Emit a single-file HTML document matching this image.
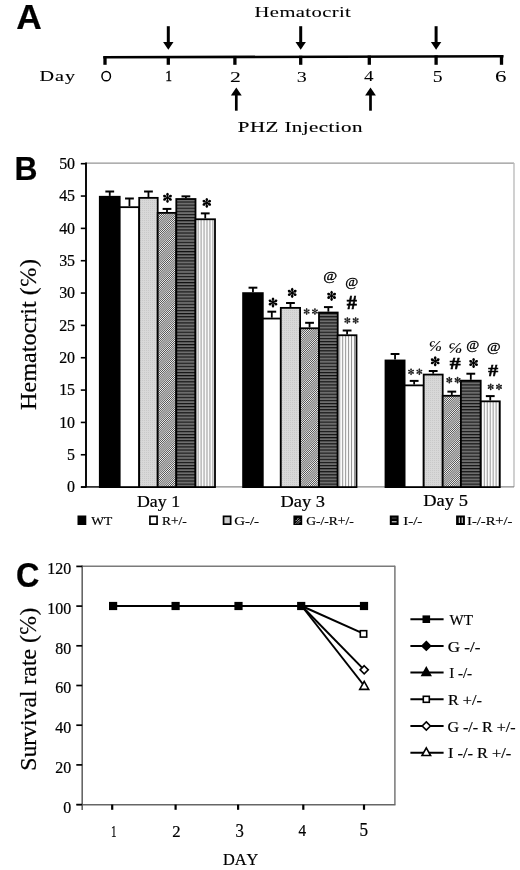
<!DOCTYPE html>
<html><head><meta charset="utf-8"><style>
html,body{margin:0;padding:0;background:#fff;}
body{width:520px;height:870px;overflow:hidden;}
svg{display:block;filter:grayscale(1) blur(0.5px);}
text{font-kerning:none;}
</style></head><body>
<svg width="520" height="870" viewBox="0 0 520 870">
<rect width="520" height="870" fill="#fff"/>
<defs>
<pattern id="hatch" patternUnits="userSpaceOnUse" width="1.5" height="3" patternTransform="rotate(45)">
<rect width="1.5" height="3" fill="#f4f4f4"/><rect width="0.65" height="3" fill="#333"/></pattern>
<pattern id="hstripe" patternUnits="userSpaceOnUse" width="3" height="3.1">
<rect width="3" height="3.1" fill="#6e6e6e"/><rect y="0" width="3" height="1.1" fill="#111"/></pattern>
<pattern id="vstripe" patternUnits="userSpaceOnUse" width="2.95" height="3">
<rect width="2.95" height="3" fill="#fafafa"/><rect x="0" width="0.9" height="3" fill="#8c8c8c"/></pattern>
<pattern id="dots" patternUnits="userSpaceOnUse" width="2" height="2">
<rect width="2" height="2" fill="#d8d8d8"/><rect width="1" height="1" fill="#c9c9c9"/></pattern>
<g id="ast"><circle r="1.3"/><path d="M0,0 L-0.85,-2.0 A1.25,1.55 0 1 1 0.85,-2.0 Z" transform="rotate(0)"/><path d="M0,0 L-0.85,-2.0 A1.25,1.55 0 1 1 0.85,-2.0 Z" transform="rotate(60)"/><path d="M0,0 L-0.85,-2.0 A1.25,1.55 0 1 1 0.85,-2.0 Z" transform="rotate(120)"/><path d="M0,0 L-0.85,-2.0 A1.25,1.55 0 1 1 0.85,-2.0 Z" transform="rotate(180)"/><path d="M0,0 L-0.85,-2.0 A1.25,1.55 0 1 1 0.85,-2.0 Z" transform="rotate(240)"/><path d="M0,0 L-0.85,-2.0 A1.25,1.55 0 1 1 0.85,-2.0 Z" transform="rotate(300)"/></g>
</defs>
<text transform="translate(16.32,28.80) scale(1.0298,1)" font-family='"Liberation Sans", sans-serif' font-size="34.303" font-weight="bold" font-style="normal" fill="#000" stroke="#000" stroke-width="0.22">A</text>
<text transform="translate(254.61,16.80) scale(1.4500,1)" font-family='"Liberation Serif", serif' font-size="14.199" font-weight="normal" font-style="normal" fill="#000" letter-spacing="0.276" stroke="#000" stroke-width="0.08">Hematocrit</text>
<polygon points="103.3,56 503.5,55 503.5,57.6 103.3,58.6" fill="#000"/>
<line x1="105" y1="56.3" x2="105" y2="64.8" stroke="#000" stroke-width="3.3" stroke-linecap="butt"/>
<line x1="168.3" y1="56.12" x2="168.3" y2="64.8" stroke="#000" stroke-width="3.3" stroke-linecap="butt"/>
<line x1="234.9" y1="55.94" x2="234.9" y2="64.8" stroke="#000" stroke-width="3.3" stroke-linecap="butt"/>
<line x1="300.7" y1="55.76" x2="300.7" y2="64.8" stroke="#000" stroke-width="3.3" stroke-linecap="butt"/>
<line x1="369.3" y1="55.57" x2="369.3" y2="64.8" stroke="#000" stroke-width="3.3" stroke-linecap="butt"/>
<line x1="436.1" y1="55.38" x2="436.1" y2="64.8" stroke="#000" stroke-width="3.3" stroke-linecap="butt"/>
<line x1="501.5" y1="55.2" x2="501.5" y2="64.8" stroke="#000" stroke-width="3.3" stroke-linecap="butt"/>
<line x1="168.3" y1="26.2" x2="168.3" y2="43" stroke="#000" stroke-width="3" stroke-linecap="butt"/>
<polygon points="163.10000000000002,42 173.5,42 168.3,49.8" fill="#000"/>
<line x1="300.7" y1="26.2" x2="300.7" y2="43" stroke="#000" stroke-width="3" stroke-linecap="butt"/>
<polygon points="295.5,42 305.9,42 300.7,49.8" fill="#000"/>
<line x1="436.1" y1="26.2" x2="436.1" y2="43" stroke="#000" stroke-width="3" stroke-linecap="butt"/>
<polygon points="430.90000000000003,42 441.3,42 436.1,49.8" fill="#000"/>
<line x1="236.3" y1="94" x2="236.3" y2="110.7" stroke="#000" stroke-width="2.7" stroke-linecap="butt"/>
<polygon points="230.9,95.6 241.70000000000002,95.6 236.3,87.4" fill="#000"/>
<line x1="370.5" y1="94" x2="370.5" y2="110.7" stroke="#000" stroke-width="2.7" stroke-linecap="butt"/>
<polygon points="365.1,95.6 375.9,95.6 370.5,87.4" fill="#000"/>
<ellipse cx="106.2" cy="76.15" rx="4.25" ry="4.65" fill="none" stroke="#000" stroke-width="1.5"/>
<text transform="translate(165.38,80.70) scale(0.9198,1)" font-family='"Liberation Serif", serif' font-size="13.897" font-weight="normal" font-style="normal" fill="#000" stroke="#000" stroke-width="0.5">1</text>
<text transform="translate(230.05,82.00) scale(1.5616,1)" font-family='"Liberation Serif", serif' font-size="13.897" font-weight="normal" font-style="normal" fill="#000" stroke="#000" stroke-width="0.05">2</text>
<text transform="translate(296.64,81.80) scale(1.4303,1)" font-family='"Liberation Serif", serif' font-size="14.048" font-weight="normal" font-style="normal" fill="#000" stroke="#000" stroke-width="0.05">3</text>
<text transform="translate(363.93,81.40) scale(1.3484,1)" font-family='"Liberation Serif", serif' font-size="14.199" font-weight="normal" font-style="normal" fill="#000" stroke="#000" stroke-width="0.05">4</text>
<text transform="translate(432.86,81.80) scale(1.2483,1)" font-family='"Liberation Serif", serif' font-size="15.710" font-weight="normal" font-style="normal" fill="#000" stroke="#000" stroke-width="0.05">5</text>
<text transform="translate(495.01,81.90) scale(1.4601,1)" font-family='"Liberation Serif", serif' font-size="15.710" font-weight="normal" font-style="normal" fill="#000" stroke="#000" stroke-width="0.05">6</text>
<text transform="translate(39.52,80.50) scale(1.3500,1)" font-family='"Liberation Serif", serif' font-size="14.962" font-weight="normal" font-style="normal" fill="#000" letter-spacing="0.707" stroke="#000" stroke-width="0.1">Day</text>
<text transform="translate(237.79,131.60) scale(1.3500,1)" font-family='"Liberation Serif", serif' font-size="15.559" font-weight="normal" font-style="normal" fill="#000" letter-spacing="0.317" stroke="#000" stroke-width="0.15">PHZ Injection</text>
<text transform="translate(14.47,180.30) scale(0.9515,1)" font-family='"Liberation Sans", sans-serif' font-size="33.431" font-weight="bold" font-style="normal" fill="#000" stroke="#000" stroke-width="0.22">B</text>
<line x1="86" y1="163.2" x2="514" y2="163.2" stroke="#959595" stroke-width="1.2" stroke-linecap="butt"/>
<line x1="514" y1="163" x2="514" y2="487" stroke="#bdbdbd" stroke-width="1.4" stroke-linecap="butt"/>
<line x1="81" y1="486.8" x2="514" y2="486.8" stroke="#888" stroke-width="1.3" stroke-linecap="butt"/>
<line x1="81" y1="486.9" x2="99.5" y2="486.9" stroke="#222" stroke-width="1.5" stroke-linecap="butt"/>
<line x1="86" y1="162.5" x2="86" y2="487.5" stroke="#000" stroke-width="1.9" stroke-linecap="butt"/>
<line x1="80.8" y1="487.1" x2="86" y2="487.1" stroke="#000" stroke-width="1.6" stroke-linecap="butt"/>
<text transform="translate(75.10,492.30) scale(0.94,1)" font-family='"Liberation Serif", serif' font-size="17" font-weight="normal" font-style="normal" text-anchor="end" fill="#000" stroke="#000" stroke-width="0.22">0</text>
<line x1="80.8" y1="454.76" x2="86" y2="454.76" stroke="#000" stroke-width="1.6" stroke-linecap="butt"/>
<text transform="translate(75.10,459.96) scale(0.94,1)" font-family='"Liberation Serif", serif' font-size="17" font-weight="normal" font-style="normal" text-anchor="end" fill="#000" stroke="#000" stroke-width="0.22">5</text>
<line x1="80.8" y1="422.42" x2="86" y2="422.42" stroke="#000" stroke-width="1.6" stroke-linecap="butt"/>
<text transform="translate(75.10,427.62) scale(0.94,1)" font-family='"Liberation Serif", serif' font-size="17" font-weight="normal" font-style="normal" text-anchor="end" fill="#000" stroke="#000" stroke-width="0.22">10</text>
<line x1="80.8" y1="390.08" x2="86" y2="390.08" stroke="#000" stroke-width="1.6" stroke-linecap="butt"/>
<text transform="translate(75.10,395.28) scale(0.94,1)" font-family='"Liberation Serif", serif' font-size="17" font-weight="normal" font-style="normal" text-anchor="end" fill="#000" stroke="#000" stroke-width="0.22">15</text>
<line x1="80.8" y1="357.74" x2="86" y2="357.74" stroke="#000" stroke-width="1.6" stroke-linecap="butt"/>
<text transform="translate(75.10,362.94) scale(0.94,1)" font-family='"Liberation Serif", serif' font-size="17" font-weight="normal" font-style="normal" text-anchor="end" fill="#000" stroke="#000" stroke-width="0.22">20</text>
<line x1="80.8" y1="325.4" x2="86" y2="325.4" stroke="#000" stroke-width="1.6" stroke-linecap="butt"/>
<text transform="translate(75.10,330.60) scale(0.94,1)" font-family='"Liberation Serif", serif' font-size="17" font-weight="normal" font-style="normal" text-anchor="end" fill="#000" stroke="#000" stroke-width="0.22">25</text>
<line x1="80.8" y1="293.06" x2="86" y2="293.06" stroke="#000" stroke-width="1.6" stroke-linecap="butt"/>
<text transform="translate(75.10,298.26) scale(0.94,1)" font-family='"Liberation Serif", serif' font-size="17" font-weight="normal" font-style="normal" text-anchor="end" fill="#000" stroke="#000" stroke-width="0.22">30</text>
<line x1="80.8" y1="260.72" x2="86" y2="260.72" stroke="#000" stroke-width="1.6" stroke-linecap="butt"/>
<text transform="translate(75.10,265.92) scale(0.94,1)" font-family='"Liberation Serif", serif' font-size="17" font-weight="normal" font-style="normal" text-anchor="end" fill="#000" stroke="#000" stroke-width="0.22">35</text>
<line x1="80.8" y1="228.38" x2="86" y2="228.38" stroke="#000" stroke-width="1.6" stroke-linecap="butt"/>
<text transform="translate(75.10,233.58) scale(0.94,1)" font-family='"Liberation Serif", serif' font-size="17" font-weight="normal" font-style="normal" text-anchor="end" fill="#000" stroke="#000" stroke-width="0.22">40</text>
<line x1="80.8" y1="196.04" x2="86" y2="196.04" stroke="#000" stroke-width="1.6" stroke-linecap="butt"/>
<text transform="translate(75.10,201.24) scale(0.94,1)" font-family='"Liberation Serif", serif' font-size="17" font-weight="normal" font-style="normal" text-anchor="end" fill="#000" stroke="#000" stroke-width="0.22">45</text>
<line x1="80.8" y1="163.7" x2="86" y2="163.7" stroke="#000" stroke-width="1.6" stroke-linecap="butt"/>
<text transform="translate(75.10,168.90) scale(0.94,1)" font-family='"Liberation Serif", serif' font-size="17" font-weight="normal" font-style="normal" text-anchor="end" fill="#000" stroke="#000" stroke-width="0.22">50</text>
<line x1="109.75" y1="191.51" x2="109.75" y2="195.91" stroke="#000" stroke-width="1.8" stroke-linecap="butt"/>
<line x1="105.35" y1="191.51" x2="114.15" y2="191.51" stroke="#000" stroke-width="2.0" stroke-linecap="butt"/>
<rect x="99.8" y="196.76" width="19.9" height="290.34" fill="#000" stroke="#000" stroke-width="1.8"/>
<line x1="129.45" y1="198.5" x2="129.45" y2="206.32" stroke="#000" stroke-width="1.8" stroke-linecap="butt"/>
<line x1="125.05" y1="198.5" x2="133.85" y2="198.5" stroke="#000" stroke-width="2.0" stroke-linecap="butt"/>
<rect x="119.7" y="207.17" width="19.5" height="279.93" fill="#fff" stroke="#000" stroke-width="1.8"/>
<line x1="148.45" y1="191.51" x2="148.45" y2="197.01" stroke="#000" stroke-width="1.8" stroke-linecap="butt"/>
<line x1="144.05" y1="191.51" x2="152.85" y2="191.51" stroke="#000" stroke-width="2.0" stroke-linecap="butt"/>
<rect x="139.2" y="197.86" width="18.5" height="289.24" fill="url(#dots)" stroke="#000" stroke-width="1.8"/>
<line x1="167" y1="208.91" x2="167" y2="212.02" stroke="#000" stroke-width="1.8" stroke-linecap="butt"/>
<line x1="162.6" y1="208.91" x2="171.4" y2="208.91" stroke="#000" stroke-width="2.0" stroke-linecap="butt"/>
<rect x="157.7" y="212.87" width="18.6" height="274.23" fill="url(#hatch)" stroke="#000" stroke-width="1.8"/>
<line x1="185.9" y1="196.36" x2="185.9" y2="198.17" stroke="#000" stroke-width="1.8" stroke-linecap="butt"/>
<line x1="181.5" y1="196.36" x2="190.3" y2="196.36" stroke="#000" stroke-width="2.0" stroke-linecap="butt"/>
<rect x="176.3" y="199.02" width="19.2" height="288.08" fill="url(#hstripe)" stroke="#000" stroke-width="1.8"/>
<line x1="205.25" y1="213.37" x2="205.25" y2="218.42" stroke="#000" stroke-width="1.8" stroke-linecap="butt"/>
<line x1="200.85" y1="213.37" x2="209.65" y2="213.37" stroke="#000" stroke-width="2.0" stroke-linecap="butt"/>
<rect x="195.5" y="219.27" width="19.5" height="267.83" fill="url(#vstripe)" stroke="#000" stroke-width="1.8"/>
<line x1="252.95" y1="287.69" x2="252.95" y2="292.28" stroke="#000" stroke-width="1.8" stroke-linecap="butt"/>
<line x1="248.55" y1="287.69" x2="257.35" y2="287.69" stroke="#000" stroke-width="2.0" stroke-linecap="butt"/>
<rect x="243.1" y="293.13" width="19.7" height="193.97" fill="#000" stroke="#000" stroke-width="1.8"/>
<line x1="271.8" y1="311.69" x2="271.8" y2="317.7" stroke="#000" stroke-width="1.8" stroke-linecap="butt"/>
<line x1="267.4" y1="311.69" x2="276.2" y2="311.69" stroke="#000" stroke-width="2.0" stroke-linecap="butt"/>
<rect x="262.8" y="318.55" width="18" height="168.55" fill="#fff" stroke="#000" stroke-width="1.8"/>
<line x1="290.45" y1="303.02" x2="290.45" y2="307.03" stroke="#000" stroke-width="1.8" stroke-linecap="butt"/>
<line x1="286.05" y1="303.02" x2="294.85" y2="303.02" stroke="#000" stroke-width="2.0" stroke-linecap="butt"/>
<rect x="280.8" y="307.88" width="19.3" height="179.22" fill="url(#dots)" stroke="#000" stroke-width="1.8"/>
<line x1="309.55" y1="322.81" x2="309.55" y2="327.41" stroke="#000" stroke-width="1.8" stroke-linecap="butt"/>
<line x1="305.15" y1="322.81" x2="313.95" y2="322.81" stroke="#000" stroke-width="2.0" stroke-linecap="butt"/>
<rect x="300.1" y="328.26" width="18.9" height="158.84" fill="url(#hatch)" stroke="#000" stroke-width="1.8"/>
<line x1="328.35" y1="307.1" x2="328.35" y2="311.69" stroke="#000" stroke-width="1.8" stroke-linecap="butt"/>
<line x1="323.95" y1="307.1" x2="332.75" y2="307.1" stroke="#000" stroke-width="2.0" stroke-linecap="butt"/>
<rect x="319" y="312.54" width="18.7" height="174.56" fill="url(#hstripe)" stroke="#000" stroke-width="1.8"/>
<line x1="347.1" y1="330.51" x2="347.1" y2="334.39" stroke="#000" stroke-width="1.8" stroke-linecap="butt"/>
<line x1="342.7" y1="330.51" x2="351.5" y2="330.51" stroke="#000" stroke-width="2.0" stroke-linecap="butt"/>
<rect x="337.7" y="335.24" width="18.8" height="151.86" fill="url(#vstripe)" stroke="#000" stroke-width="1.8"/>
<line x1="395.05" y1="353.99" x2="395.05" y2="359.62" stroke="#000" stroke-width="1.8" stroke-linecap="butt"/>
<line x1="390.65" y1="353.99" x2="399.45" y2="353.99" stroke="#000" stroke-width="2.0" stroke-linecap="butt"/>
<rect x="385.5" y="360.47" width="19.1" height="126.63" fill="#000" stroke="#000" stroke-width="1.8"/>
<line x1="414.15" y1="380.9" x2="414.15" y2="384.52" stroke="#000" stroke-width="1.8" stroke-linecap="butt"/>
<line x1="409.75" y1="380.9" x2="418.55" y2="380.9" stroke="#000" stroke-width="2.0" stroke-linecap="butt"/>
<rect x="404.6" y="385.37" width="19.1" height="101.73" fill="#fff" stroke="#000" stroke-width="1.8"/>
<line x1="433.2" y1="371" x2="433.2" y2="373.72" stroke="#000" stroke-width="1.8" stroke-linecap="butt"/>
<line x1="428.8" y1="371" x2="437.6" y2="371" stroke="#000" stroke-width="2.0" stroke-linecap="butt"/>
<rect x="423.7" y="374.57" width="19" height="112.53" fill="url(#dots)" stroke="#000" stroke-width="1.8"/>
<line x1="451.8" y1="391.63" x2="451.8" y2="394.93" stroke="#000" stroke-width="1.8" stroke-linecap="butt"/>
<line x1="447.4" y1="391.63" x2="456.2" y2="391.63" stroke="#000" stroke-width="2.0" stroke-linecap="butt"/>
<rect x="442.7" y="395.78" width="18.2" height="91.32" fill="url(#hatch)" stroke="#000" stroke-width="1.8"/>
<line x1="470.8" y1="373.72" x2="470.8" y2="379.8" stroke="#000" stroke-width="1.8" stroke-linecap="butt"/>
<line x1="466.4" y1="373.72" x2="475.2" y2="373.72" stroke="#000" stroke-width="2.0" stroke-linecap="butt"/>
<rect x="460.9" y="380.65" width="19.8" height="106.45" fill="url(#hstripe)" stroke="#000" stroke-width="1.8"/>
<line x1="490.25" y1="396.1" x2="490.25" y2="400.49" stroke="#000" stroke-width="1.8" stroke-linecap="butt"/>
<line x1="485.85" y1="396.1" x2="494.65" y2="396.1" stroke="#000" stroke-width="2.0" stroke-linecap="butt"/>
<rect x="480.7" y="401.34" width="19.1" height="85.76" fill="url(#vstripe)" stroke="#000" stroke-width="1.8"/>
<use href="#ast" transform="translate(167.5,197.8) scale(1.05)" fill="#000"/>
<use href="#ast" transform="translate(206.8,202.85) scale(1.03)" fill="#000"/>
<use href="#ast" transform="translate(273,302.45) scale(1.05)" fill="#000"/>
<use href="#ast" transform="translate(292.2,292.9) scale(1.05)" fill="#000"/>
<use href="#ast" transform="translate(306.65000000000003,311.5) scale(0.72)" fill="#222"/>
<use href="#ast" transform="translate(314.95,311.5) scale(0.72)" fill="#222"/>
<use href="#ast" transform="translate(331.6,295.85) scale(1.05)" fill="#000"/>
<use href="#ast" transform="translate(347.35,320.45) scale(0.72)" fill="#222"/>
<use href="#ast" transform="translate(355.65,320.45) scale(0.72)" fill="#222"/>
<use href="#ast" transform="translate(411.05,371.75) scale(0.72)" fill="#222"/>
<use href="#ast" transform="translate(419.34999999999997,371.75) scale(0.72)" fill="#222"/>
<use href="#ast" transform="translate(435.2,361.3) scale(1.05)" fill="#000"/>
<use href="#ast" transform="translate(449.3,380.15) scale(0.72)" fill="#222"/>
<use href="#ast" transform="translate(457.59999999999997,380.15) scale(0.72)" fill="#222"/>
<use href="#ast" transform="translate(473.6,362.95) scale(1.05)" fill="#000"/>
<use href="#ast" transform="translate(490.70000000000005,386.85) scale(0.72)" fill="#222"/>
<use href="#ast" transform="translate(499.0,386.85) scale(0.72)" fill="#222"/>
<text transform="translate(323.20,279.93) scale(1.318,1)" font-family='"Liberation Serif", serif' font-size="11.45" font-weight="normal" font-style="normal" stroke="#000" stroke-width="0.3">@</text>
<text transform="translate(345.25,286.11) scale(1.173,1)" font-family='"Liberation Serif", serif' font-size="12.03" font-weight="normal" font-style="normal" stroke="#000" stroke-width="0.3">@</text>
<text transform="translate(346.83,309.20) scale(1.097,1)" font-family='"Liberation Serif", serif' font-size="18.48" font-weight="bold" font-style="normal" stroke="#000" stroke-width="0.55">#</text>
<text transform="translate(428.46,351.30) scale(1.103,1)" font-family='"Liberation Serif", serif' font-size="14.89" font-weight="normal" font-style="italic" stroke="#000" stroke-width="0.12">℅</text>
<text transform="translate(447.98,352.70) scale(1.170,1)" font-family='"Liberation Serif", serif' font-size="14.89" font-weight="normal" font-style="italic" stroke="#000" stroke-width="0.12">℅</text>
<text transform="translate(449.72,369.00) scale(1.237,1)" font-family='"Liberation Serif", serif' font-size="17.41" font-weight="bold" font-style="normal" stroke="#000" stroke-width="0.55">#</text>
<text transform="translate(466.15,348.66) scale(1.196,1)" font-family='"Liberation Serif", serif' font-size="11.80" font-weight="normal" font-style="normal" stroke="#000" stroke-width="0.3">@</text>
<text transform="translate(488.24,375.80) scale(1.130,1)" font-family='"Liberation Serif", serif' font-size="17.56" font-weight="bold" font-style="normal" stroke="#000" stroke-width="0.55">#</text>
<text transform="translate(487.01,351.36) scale(1.258,1)" font-family='"Liberation Serif", serif' font-size="11.80" font-weight="normal" font-style="normal" stroke="#000" stroke-width="0.3">@</text>
<text transform="translate(136.99,507.00) scale(1.0619,1)" font-family='"Liberation Serif", serif' font-size="16.794" font-weight="normal" font-style="normal" fill="#000" stroke="#000" stroke-width="0.22">Day 1</text>
<text transform="translate(280.47,506.80) scale(1.0784,1)" font-family='"Liberation Serif", serif' font-size="17.099" font-weight="normal" font-style="normal" fill="#000" stroke="#000" stroke-width="0.22">Day 3</text>
<text transform="translate(423.27,506.40) scale(1.1107,1)" font-family='"Liberation Serif", serif' font-size="16.641" font-weight="normal" font-style="normal" fill="#000" stroke="#000" stroke-width="0.22">Day 5</text>
<rect x="78.35" y="516.35" width="7.1" height="7.8" fill="#000" stroke="#000" stroke-width="1.7"/>
<text transform="translate(91.29,525.00) scale(1.0072,1)" font-family='"Liberation Serif", serif' font-size="13.435" font-weight="normal" font-style="normal" fill="#000" stroke="#000" stroke-width="0.2">WT</text>
<rect x="149.95" y="516.35" width="7.1" height="7.8" fill="#fff" stroke="#000" stroke-width="1.7"/>
<text transform="translate(161.91,525.00) scale(1.0012,1)" font-family='"Liberation Serif", serif' font-size="13.435" font-weight="normal" font-style="normal" fill="#000" stroke="#000" stroke-width="0.2">R+/-</text>
<rect x="223.55" y="516.35" width="7.1" height="7.8" fill="#cdcdcd" stroke="#000" stroke-width="1.7"/>
<text transform="translate(234.19,525.00) scale(1.1102,1)" font-family='"Liberation Serif", serif' font-size="13.435" font-weight="normal" font-style="normal" fill="#000" stroke="#000" stroke-width="0.2">G-/-</text>
<rect x="294.25" y="516.35" width="7.1" height="7.8" fill="#000" stroke="#000" stroke-width="1.7"/>
<g stroke="#fff" stroke-width="1" stroke-dasharray="1.2 0.6"><line x1="295.59999999999997" y1="521.1" x2="298.79999999999995" y2="517.9"/><line x1="295.79999999999995" y1="523.5" x2="300.2" y2="519.1"/><line x1="298.0" y1="523.5" x2="300.2" y2="521.3"/></g>
<text transform="translate(306.24,525.00) scale(1.0089,1)" font-family='"Liberation Serif", serif' font-size="13.435" font-weight="normal" font-style="normal" fill="#000" stroke="#000" stroke-width="0.2">G-/-R+/-</text>
<rect x="390.65" y="516.35" width="7.1" height="7.8" fill="#000" stroke="#000" stroke-width="1.7"/>
<line x1="391.8" y1="521.8" x2="396.6" y2="521.8" stroke="#fff" stroke-width="1.0" stroke-linecap="butt"/>
<line x1="391.8" y1="518.1" x2="396.6" y2="518.1" stroke="#666" stroke-width="0.8" stroke-linecap="butt"/>
<text transform="translate(403.16,525.00) scale(1.1184,1)" font-family='"Liberation Serif", serif' font-size="13.435" font-weight="normal" font-style="normal" fill="#000" stroke="#000" stroke-width="0.2">I-/-</text>
<rect x="456.95" y="516.35" width="7.1" height="7.8" fill="#000" stroke="#000" stroke-width="1.7"/>
<line x1="459.3" y1="517.5" x2="459.3" y2="523" stroke="#fff" stroke-width="1.0" stroke-linecap="butt"/>
<line x1="462.2" y1="517.5" x2="462.2" y2="523" stroke="#fff" stroke-width="1.0" stroke-linecap="butt"/>
<text transform="translate(467.07,525.00) scale(1.0848,1)" font-family='"Liberation Serif", serif' font-size="13.435" font-weight="normal" font-style="normal" fill="#000" stroke="#000" stroke-width="0.2">I-/-R+/-</text>
<text transform="translate(35.80,409.90) rotate(-90) scale(1.0387,1)" font-family='"Liberation Serif", serif' font-size="23.263" font-weight="normal" font-style="normal" fill="#000" stroke="#000" stroke-width="0.22">Hematocrit (℅)</text>
<text transform="translate(15.97,587.20) scale(0.9356,1)" font-family='"Liberation Sans", sans-serif' font-size="34.658" font-weight="bold" font-style="normal" fill="#000" stroke="#000" stroke-width="0.22">C</text>
<line x1="82" y1="566.2" x2="395" y2="566.2" stroke="#7a7a7a" stroke-width="1.5" stroke-linecap="butt"/>
<line x1="394.9" y1="565.8" x2="394.9" y2="804.6" stroke="#777" stroke-width="1.5" stroke-linecap="butt"/>
<line x1="76.5" y1="804.7" x2="395.5" y2="804.7" stroke="#666" stroke-width="1.6" stroke-linecap="butt"/>
<line x1="82.2" y1="565.5" x2="82.2" y2="810" stroke="#666" stroke-width="1.6" stroke-linecap="butt"/>
<line x1="76.3" y1="804.6" x2="82.2" y2="804.6" stroke="#000" stroke-width="1.7" stroke-linecap="butt"/>
<text transform="translate(71.20,812.50) scale(0.94,1)" font-family='"Liberation Serif", serif' font-size="17" font-weight="normal" font-style="normal" text-anchor="end" fill="#000" stroke="#000" stroke-width="0.22">0</text>
<line x1="76.3" y1="764.9" x2="82.2" y2="764.9" stroke="#000" stroke-width="1.7" stroke-linecap="butt"/>
<text transform="translate(71.20,772.80) scale(0.94,1)" font-family='"Liberation Serif", serif' font-size="17" font-weight="normal" font-style="normal" text-anchor="end" fill="#000" stroke="#000" stroke-width="0.22">20</text>
<line x1="76.3" y1="725.2" x2="82.2" y2="725.2" stroke="#000" stroke-width="1.7" stroke-linecap="butt"/>
<text transform="translate(71.20,733.10) scale(0.94,1)" font-family='"Liberation Serif", serif' font-size="17" font-weight="normal" font-style="normal" text-anchor="end" fill="#000" stroke="#000" stroke-width="0.22">40</text>
<line x1="76.3" y1="685.5" x2="82.2" y2="685.5" stroke="#000" stroke-width="1.7" stroke-linecap="butt"/>
<text transform="translate(71.20,693.40) scale(0.94,1)" font-family='"Liberation Serif", serif' font-size="17" font-weight="normal" font-style="normal" text-anchor="end" fill="#000" stroke="#000" stroke-width="0.22">60</text>
<line x1="76.3" y1="645.8" x2="82.2" y2="645.8" stroke="#000" stroke-width="1.7" stroke-linecap="butt"/>
<text transform="translate(71.20,653.70) scale(0.94,1)" font-family='"Liberation Serif", serif' font-size="17" font-weight="normal" font-style="normal" text-anchor="end" fill="#000" stroke="#000" stroke-width="0.22">80</text>
<line x1="76.3" y1="606.1" x2="82.2" y2="606.1" stroke="#000" stroke-width="1.7" stroke-linecap="butt"/>
<text transform="translate(71.20,614.00) scale(0.94,1)" font-family='"Liberation Serif", serif' font-size="17" font-weight="normal" font-style="normal" text-anchor="end" fill="#000" stroke="#000" stroke-width="0.22">100</text>
<line x1="76.3" y1="566.4" x2="82.2" y2="566.4" stroke="#000" stroke-width="1.7" stroke-linecap="butt"/>
<text transform="translate(71.20,574.30) scale(0.94,1)" font-family='"Liberation Serif", serif' font-size="17" font-weight="normal" font-style="normal" text-anchor="end" fill="#000" stroke="#000" stroke-width="0.22">120</text>
<line x1="112.2" y1="804.6" x2="112.2" y2="809.8" stroke="#000" stroke-width="2.2" stroke-linecap="butt"/>
<text transform="translate(110.93,837.00) scale(0.6322,1)" font-family='"Liberation Serif", serif' font-size="17.523" font-weight="normal" font-style="normal" fill="#000" stroke="#000" stroke-width="0.22">1</text>
<line x1="175.6" y1="804.6" x2="175.6" y2="809.8" stroke="#000" stroke-width="2.2" stroke-linecap="butt"/>
<text transform="translate(172.17,836.50) scale(0.9621,1)" font-family='"Liberation Serif", serif' font-size="17.372" font-weight="normal" font-style="normal" fill="#000" stroke="#000" stroke-width="0.22">2</text>
<line x1="238.1" y1="804.6" x2="238.1" y2="809.8" stroke="#000" stroke-width="2.2" stroke-linecap="butt"/>
<text transform="translate(235.40,836.50) scale(0.9292,1)" font-family='"Liberation Serif", serif' font-size="17.976" font-weight="normal" font-style="normal" fill="#000" stroke="#000" stroke-width="0.22">3</text>
<line x1="303.3" y1="804.6" x2="303.3" y2="809.8" stroke="#000" stroke-width="2.2" stroke-linecap="butt"/>
<text transform="translate(298.50,835.80) scale(0.9028,1)" font-family='"Liberation Serif", serif' font-size="16.918" font-weight="normal" font-style="normal" fill="#000" stroke="#000" stroke-width="0.22">4</text>
<line x1="364" y1="804.6" x2="364" y2="809.8" stroke="#000" stroke-width="2.2" stroke-linecap="butt"/>
<text transform="translate(359.60,836.00) scale(0.9294,1)" font-family='"Liberation Serif", serif' font-size="18.429" font-weight="normal" font-style="normal" fill="#000" stroke="#000" stroke-width="0.22">5</text>
<text transform="translate(222.93,865.40) scale(0.9240,1)" font-family='"Liberation Serif", serif' font-size="17.727" font-weight="normal" font-style="normal" fill="#000" stroke="#000" stroke-width="0.22">DAY</text>
<polyline points="113.1,606.0 175.6,606.0 238.5,606.0 301.2,606.0 364.0,606.0" fill="none" stroke="#000" stroke-width="2"/>
<line x1="301.7" y1="606" x2="364" y2="633.89" stroke="#000" stroke-width="2" stroke-linecap="butt"/>
<line x1="301.7" y1="606" x2="364" y2="669.62" stroke="#000" stroke-width="2" stroke-linecap="butt"/>
<line x1="301.7" y1="606" x2="364" y2="685.5" stroke="#000" stroke-width="2" stroke-linecap="butt"/>
<rect x="109" y="601.9" width="8.2" height="8.2" fill="#000" stroke="#000" stroke-width="0"/>
<rect x="171.5" y="601.9" width="8.2" height="8.2" fill="#000" stroke="#000" stroke-width="0"/>
<rect x="234.4" y="601.9" width="8.2" height="8.2" fill="#000" stroke="#000" stroke-width="0"/>
<rect x="297.1" y="601.9" width="8.2" height="8.2" fill="#000" stroke="#000" stroke-width="0"/>
<rect x="359.9" y="601.9" width="8.2" height="8.2" fill="#000" stroke="#000" stroke-width="0"/>
<rect x="360.3" y="630.69" width="6.4" height="6.4" fill="#fff" stroke="#000" stroke-width="1.6"/>
<polygon points="364.2,665.72 368.3,669.82 364.2,673.9200000000001 360.09999999999997,669.82" fill="#fff" stroke="#000" stroke-width="1.6"/>
<polygon points="364.2,681.3 368.7,689.4 359.7,689.4" fill="#fff" stroke="#000" stroke-width="1.6"/>
<line x1="410.4" y1="619.2" x2="443.6" y2="619.2" stroke="#000" stroke-width="2.0" stroke-linecap="butt"/>
<rect x="422.5" y="615.4" width="7.6" height="7.6" fill="#000" stroke="#000" stroke-width="0"/>
<text transform="translate(449.59,624.80) scale(0.9746,1)" font-family='"Liberation Serif", serif' font-size="15.420" font-weight="normal" font-style="normal" fill="#000" stroke="#000" stroke-width="0.22">WT</text>
<line x1="410.4" y1="645.9" x2="443.6" y2="645.9" stroke="#000" stroke-width="2.0" stroke-linecap="butt"/>
<polygon points="426.3,641.6000000000001 430.6,645.9000000000001 426.3,650.2 422.0,645.9000000000001" fill="#000" stroke="#000" stroke-width="1.6"/>
<text transform="translate(447.80,651.50) scale(1.1003,1)" font-family='"Liberation Serif", serif' font-size="15.420" font-weight="normal" font-style="normal" fill="#000" stroke="#000" stroke-width="0.22">G -/-</text>
<line x1="410.4" y1="672.6" x2="443.6" y2="672.6" stroke="#000" stroke-width="2.0" stroke-linecap="butt"/>
<polygon points="426.3,667.7 430.6,675.44 422.0,675.44" fill="#000" stroke="#000" stroke-width="1.6"/>
<text transform="translate(449.16,678.20) scale(0.9764,1)" font-family='"Liberation Serif", serif' font-size="15.420" font-weight="normal" font-style="normal" fill="#000" stroke="#000" stroke-width="0.22">I -/-</text>
<line x1="410.4" y1="699.3" x2="443.6" y2="699.3" stroke="#000" stroke-width="2.0" stroke-linecap="butt"/>
<rect x="423.3" y="696.3" width="6" height="6" fill="#fff" stroke="#000" stroke-width="1.6"/>
<text transform="translate(448.03,704.90) scale(1.0495,1)" font-family='"Liberation Serif", serif' font-size="15.420" font-weight="normal" font-style="normal" fill="#000" stroke="#000" stroke-width="0.22">R +/-</text>
<line x1="410.4" y1="726" x2="443.6" y2="726" stroke="#000" stroke-width="2.0" stroke-linecap="butt"/>
<polygon points="426.3,721.9 430.40000000000003,726.0 426.3,730.1 422.2,726.0" fill="#fff" stroke="#000" stroke-width="1.6"/>
<text transform="translate(447.44,731.60) scale(1.0378,1)" font-family='"Liberation Serif", serif' font-size="15.420" font-weight="normal" font-style="normal" fill="#000" stroke="#000" stroke-width="0.22">G -/- R +/-</text>
<line x1="410.4" y1="752.7" x2="443.6" y2="752.7" stroke="#000" stroke-width="2.0" stroke-linecap="butt"/>
<polygon points="426.3,747.8000000000001 430.6,755.5400000000001 422.0,755.5400000000001" fill="#fff" stroke="#000" stroke-width="1.6"/>
<text transform="translate(448.01,758.30) scale(1.0625,1)" font-family='"Liberation Serif", serif' font-size="15.420" font-weight="normal" font-style="normal" fill="#000" stroke="#000" stroke-width="0.22">I -/- R +/-</text>
<text transform="translate(35.50,770.79) rotate(-90) scale(0.9874,1)" font-family='"Liberation Serif", serif' font-size="24.018" font-weight="normal" font-style="normal" fill="#000" stroke="#000" stroke-width="0.22">Survival rate (℅)</text>
</svg>
</body></html>
